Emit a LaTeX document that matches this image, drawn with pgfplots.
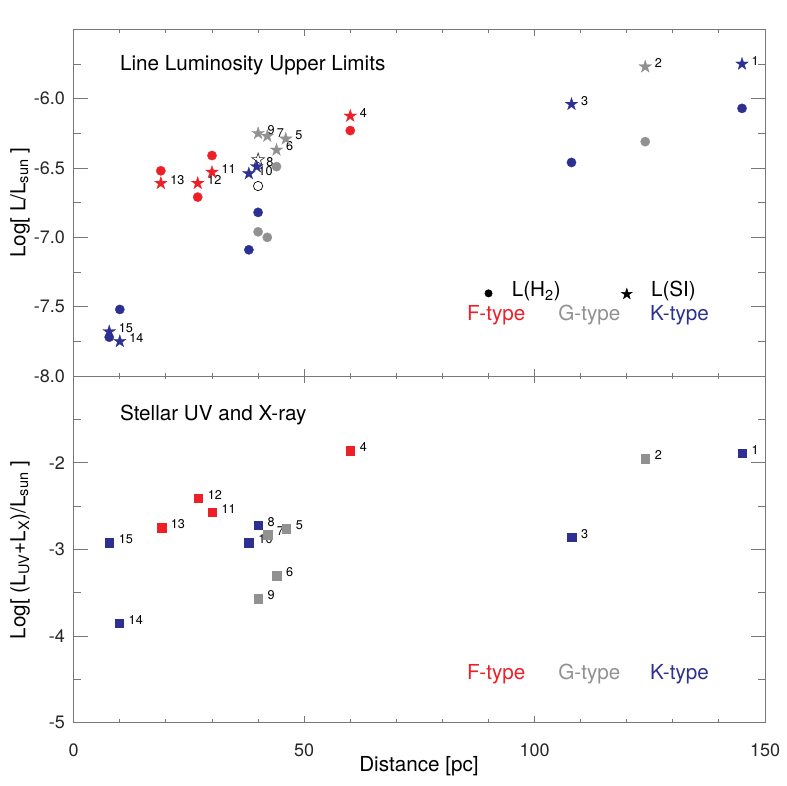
\documentclass[border=0pt]{standalone}
\usepackage{pgfplots}
\pgfplotsset{compat=1.18}
\usepackage{fontspec}
\setmainfont{TeX Gyre Heros}
\definecolor{cred}{RGB}{237,32,40}
\definecolor{cgray}{RGB}{145,145,145}
\definecolor{cblue}{RGB}{44,48,145}
\definecolor{axgray}{RGB}{120,120,120}
\newcommand{\fbig}{\fontsize{15.5}{18}\selectfont}
\newcommand{\ftick}{\fontsize{13.5}{16}\selectfont}
\newcommand{\fnum}{\fontsize{9.5}{11}\selectfont}
\pgfdeclareplotmark{fstar}{%
  \pgfpathmoveto{\pgfpointpolar{90}{\pgfplotmarksize}}%
  \pgfpathlineto{\pgfpointpolar{126}{0.382\pgfplotmarksize}}%
  \pgfpathlineto{\pgfpointpolar{162}{\pgfplotmarksize}}%
  \pgfpathlineto{\pgfpointpolar{198}{0.382\pgfplotmarksize}}%
  \pgfpathlineto{\pgfpointpolar{234}{\pgfplotmarksize}}%
  \pgfpathlineto{\pgfpointpolar{270}{0.382\pgfplotmarksize}}%
  \pgfpathlineto{\pgfpointpolar{306}{\pgfplotmarksize}}%
  \pgfpathlineto{\pgfpointpolar{342}{0.382\pgfplotmarksize}}%
  \pgfpathlineto{\pgfpointpolar{18}{\pgfplotmarksize}}%
  \pgfpathlineto{\pgfpointpolar{54}{0.382\pgfplotmarksize}}%
  \pgfpathclose
  \pgfusepathqfillstroke
}
\tikzset{numlab/.style={anchor=west, inner sep=0pt, xshift=7pt, yshift=2.6pt, font=\fnum, text=black}}
\pgfplotsset{
  panel/.style={
    scale only axis, width=518.5pt, height=260pt,
    xmin=0, xmax=150, xtick={0,50,100,150}, minor x tick num=4,
    minor y tick num=1,
    tick align=inside, clip=false,
    axis line style={axgray, line width=0.75pt},
    every tick/.style={axgray, line width=0.75pt},
    major tick length=10.5pt, minor tick length=5.25pt,
    xtick style={/pgfplots/major tick length=5.25pt,/pgfplots/minor tick length=2.6pt},
    tick label style={font=\ftick, text=black!85},
    yticklabel style={anchor=east, inner sep=0pt, xshift=-6.5pt},
  },
  hmark/.style={only marks, mark=*, mark size=3.5pt, mark options={fill=#1, draw=#1, line width=0.2pt}},
  smark/.style={only marks, mark=fstar, mark size=5pt, mark options={fill=#1, draw=#1, line width=0.2pt}},
  qmark/.style={only marks, mark=square*, mark size=3.25pt, mark options={fill=#1, draw=#1, line width=0.2pt}},
}
\begin{document}
\begin{tikzpicture}
\useasboundingbox (0,0) rectangle (589.5pt,-589.5pt);
% ---------------- top panel ----------------
\begin{axis}[panel, at={(55.3pt,-282pt)}, anchor=south west,
  ymin=-8, ymax=-5.5, ytick={-8,-7.5,-7,-6.5,-6,-5.5},
  yticklabels={-8.0,-7.5,-7.0,-6.5,-6.0,{}}, xticklabels={}]
% H2 circles
\addplot[hmark=cred] coordinates {(18.9,-6.52) (26.9,-6.71) (30.0,-6.41) (60.0,-6.23)};
\addplot[hmark=cgray] coordinates {(124.0,-6.31) (44.0,-6.49) (42.0,-7.00) (40.0,-6.96)};
\addplot[hmark=cblue] coordinates {(145.0,-6.07) (108.0,-6.46) (40.0,-6.82) (38.0,-7.09) (10.0,-7.52) (7.7,-7.72)};
\addplot[only marks, mark=*, mark size=3.5pt, mark options={fill=white, draw=black, line width=0.5pt}] coordinates {(40.0,-6.63)};
% SI stars
\addplot[only marks, mark=fstar, mark size=5pt, mark options={fill=white, draw=black!80, line width=0.5pt}] coordinates {(40.0,-6.44)};
\addplot[smark=cred] coordinates {(18.9,-6.61) (26.9,-6.61) (30.0,-6.53) (60.0,-6.125)};
\addplot[smark=cgray] coordinates {(124.0,-5.77) (46.0,-6.29) (44.0,-6.37) (42.0,-6.27) (40.0,-6.25)};
\addplot[smark=cblue] coordinates {(145.0,-5.75) (108.0,-6.04) (39.7,-6.49) (38.0,-6.54) (10.0,-7.75) (7.7,-7.68)};
% legend symbols
\addplot[only marks, mark=*, mark size=2.75pt, mark options={fill=black, draw=black}] coordinates {(90,-7.404)};
\addplot[only marks, mark=fstar, mark size=4.2pt, mark options={fill=black, draw=black}] coordinates {(120,-7.409)};
% labels
\node[numlab] at (axis cs:145.0,-5.75) {1};
\node[numlab] at (axis cs:124.0,-5.77) {2};
\node[numlab] at (axis cs:108.0,-6.04) {3};
\node[numlab] at (axis cs:60.0,-6.125) {4};
\node[numlab] at (axis cs:46.0,-6.29) {5};
\node[numlab] at (axis cs:44.0,-6.37) {6};
\node[numlab] at (axis cs:42.0,-6.27) {7};
\node[numlab, yshift=1pt] at (axis cs:39.7,-6.49) {8};
\node[numlab, yshift=-1pt] at (axis cs:38.0,-6.54) {10};
\node[numlab] at (axis cs:40.0,-6.25) {9};
\node[numlab] at (axis cs:30.0,-6.53) {11};
\node[numlab] at (axis cs:26.9,-6.61) {12};
\node[numlab] at (axis cs:18.9,-6.61) {13};
\node[numlab] at (axis cs:10.0,-7.75) {14};
\node[numlab] at (axis cs:7.7,-7.68) {15};
\node[anchor=base west, inner sep=0pt, font=\fbig] at (axis cs:10,-5.80) {Line Luminosity Upper Limits};
\node[anchor=base west, inner sep=0pt, font=\fbig] at (axis cs:95,-7.428) {L(H\textsubscript{2})};
\node[anchor=base west, inner sep=0pt, font=\fbig] at (axis cs:125.2,-7.428) {L(SI)};
\node[anchor=base west, inner sep=0pt, font=\fbig, text=cred] at (axis cs:85.3,-7.60) {F-type};
\node[anchor=base west, inner sep=0pt, font=\fbig, text=cgray] at (axis cs:105.1,-7.60) {G-type};
\node[anchor=base west, inner sep=0pt, font=\fbig, text=cblue] at (axis cs:125.0,-7.60) {K-type};
\end{axis}
% ---------------- bottom panel ----------------
\begin{axis}[panel, at={(55.3pt,-542pt)}, anchor=south west,
  ymin=-5, ymax=-1, ytick={-5,-4,-3,-2,-1},
  yticklabels={-5,-4,-3,-2,{}}, xticklabels={0,50,100,150},
  xticklabel style={anchor=center, yshift=-21pt}]
\addplot[qmark=cred] coordinates {(60.0,-1.86) (27.0,-2.41) (30.0,-2.57) (19.0,-2.75)};
\addplot[qmark=cgray] coordinates {(124.0,-1.95) (46.1,-2.76) (42.0,-2.83) (44.0,-3.30) (40.0,-3.57)};
\addplot[qmark=cblue] coordinates {(145.0,-1.89) (108.0,-2.86) (40.0,-2.72) (38.0,-2.92) (7.7,-2.92) (9.85,-3.85)};
\node[numlab] at (axis cs:145.0,-1.89) {1};
\node[numlab] at (axis cs:124.0,-1.95) {2};
\node[numlab] at (axis cs:108.0,-2.86) {3};
\node[numlab] at (axis cs:60.0,-1.86) {4};
\node[numlab] at (axis cs:46.1,-2.76) {5};
\node[numlab] at (axis cs:44.0,-3.30) {6};
\node[numlab] at (axis cs:42.0,-2.83) {7};
\node[numlab] at (axis cs:40.0,-2.72) {8};
\node[numlab] at (axis cs:40.0,-3.57) {9};
\node[numlab] at (axis cs:38.0,-2.92) {10};
\node[numlab] at (axis cs:30.0,-2.57) {11};
\node[numlab] at (axis cs:27.0,-2.41) {12};
\node[numlab] at (axis cs:19.0,-2.75) {13};
\node[numlab] at (axis cs:9.85,-3.85) {14};
\node[numlab] at (axis cs:7.7,-2.92) {15};
\node[anchor=base west, inner sep=0pt, font=\fbig] at (axis cs:10,-1.514) {Stellar UV and X-ray};
\node[anchor=base west, inner sep=0pt, font=\fbig, text=cred] at (axis cs:85.3,-4.497) {F-type};
\node[anchor=base west, inner sep=0pt, font=\fbig, text=cgray] at (axis cs:105.1,-4.497) {G-type};
\node[anchor=base west, inner sep=0pt, font=\fbig, text=cblue] at (axis cs:125.0,-4.497) {K-type};
\end{axis}
% axis labels
\node[font=\fbig] at (314.25pt,-574.5pt) {Distance [pc]};
\node[font=\fbig, rotate=90] at (15pt,-152pt) {Log[ L/L\textsubscript{sun} ]};
\node[font=\fbig, rotate=90] at (15pt,-412.5pt) {Log[ (L\textsubscript{UV}+L\textsubscript{X})/L\textsubscript{sun} ]};
\end{tikzpicture}
\end{document}
